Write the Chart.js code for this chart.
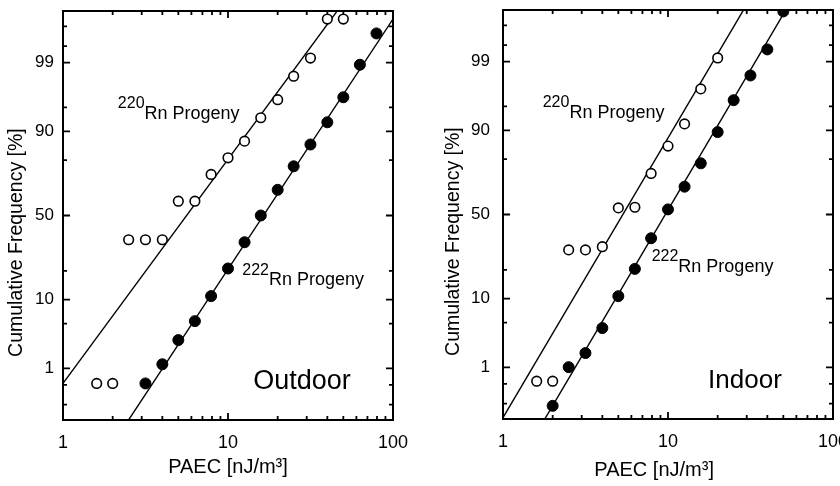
<!DOCTYPE html>
<html>
<head>
<meta charset="utf-8">
<script src="https://cdn.jsdelivr.net/npm/chart.js@4.4.1/dist/chart.umd.min.js"></script>
<style>
  html, body { margin: 0; padding: 0; background: #fff; }
  #wrap { position: relative; width: 840px; height: 486px; overflow: hidden; }
  .panel { position: absolute; top: 0; width: 420px; height: 486px; }
</style>
</head>
<body>
<div id="wrap">
  <div class="panel" style="left:0"><canvas id="outdoor" width="420" height="486"></canvas></div>
  <div class="panel" style="left:420px"><canvas id="indoor" width="420" height="486"></canvas></div>
</div>
<script>
// PAEC class values [nJ/m3] and cumulative frequency [%]
const outdoorRn220X = [1.6, 2.0, 2.5, 3.16, 4.0, 5.0, 6.3, 7.9, 10, 12.6, 15.8, 20, 25, 31.6, 40, 50];
const outdoorRn220Y = [0.53, 0.53, 35.6, 35.6, 35.6, 58.6, 58.6, 73.4, 81.0, 87.1, 93.15, 96.1, 98.3, 99.17, 99.86, 99.86];
const outdoorRn222X = [3.16, 4.0, 5.0, 6.3, 7.9, 10, 12.6, 15.8, 20, 25, 31.6, 40, 50, 63, 79.4];
const outdoorRn222Y = [0.53, 1.18, 2.9, 5.4, 11.0, 21.0, 34.2, 50, 65.2, 77.3, 86.0, 92.2, 96.4, 98.91, 99.72];

const indoorRn220X = [1.6, 2.0, 2.5, 3.16, 4.0, 5.0, 6.3, 7.9, 10, 12.6, 15.8, 20];
const indoorRn220Y = [0.56, 0.56, 29.5, 29.5, 31.2, 54.0, 54.4, 73.4, 85.1, 91.6, 97.2, 99.14];
const indoorRn222X = [2.0, 2.5, 3.16, 4.0, 5.0, 6.3, 7.9, 10, 12.6, 15.8, 20, 25, 31.6, 40, 50];
const indoorRn222Y = [0.18, 1.01, 1.75, 4.2, 10.7, 20.4, 35.9, 53.1, 66.4, 78.2, 89.5, 95.9, 98.28, 99.40, 99.90];

// log-normal fit lines (two end points each)
const outdoorFit220X = [1, 50];
const outdoorFit220Y = [0.53, 99.94];
const outdoorFit222X = [2.43, 100];
const outdoorFit222Y = [0.08, 99.86];
const indoorFit220X = [1, 30];
const indoorFit220Y = [0.10, 99.93];
const indoorFit222X = [1.75, 53];
const indoorFit222Y = [0.08, 99.92];

// axes
const xTicks = [1, 2, 3, 4, 5, 6, 7, 8, 9, 10, 20, 30, 40, 50, 60, 70, 80, 90, 100];
const xLabels = [1, 10, 100];
const yTicks = [0.2, 0.5, 1, 5, 10, 20, 50, 80, 90, 95, 99, 99.5, 99.8];
const yLabels = [1, 10, 50, 90, 99];
const yRange = [0.093, 99.907];

const FONT = '"Liberation Sans", Arial, sans-serif';

// inverse normal CDF (Acklam)
function probit(p) {
    const a = [-3.969683028665376e+01, 2.209460984245205e+02, -2.759285104469687e+02, 1.383577518672690e+02, -3.066479806614716e+01, 2.506628277459239e+00];
    const b = [-5.447609879822406e+01, 1.615858368580409e+02, -1.556989798598866e+02, 6.680131188771972e+01, -1.328068155288572e+01];
    const c = [-7.784894002430293e-03, -3.223964580411365e-01, -2.400758277161838e+00, -2.549732539343734e+00, 4.374664141464968e+00, 2.938163982698783e+00];
    const d = [7.784695709041462e-03, 3.224671290700398e-01, 2.445134137142996e+00, 3.754408661907416e+00];
    const lo = 0.02425;
    if (p < lo) {
        const q = Math.sqrt(-2 * Math.log(p));
        return (((((c[0]*q+c[1])*q+c[2])*q+c[3])*q+c[4])*q+c[5]) / ((((d[0]*q+d[1])*q+d[2])*q+d[3])*q+1);
    }
    if (p > 1 - lo) {
        const q = Math.sqrt(-2 * Math.log(1 - p));
        return -(((((c[0]*q+c[1])*q+c[2])*q+c[3])*q+c[4])*q+c[5]) / ((((d[0]*q+d[1])*q+d[2])*q+d[3])*q+1);
    }
    const q = p - 0.5, r = q * q;
    return (((((a[0]*r+a[1])*r+a[2])*r+a[3])*r+a[4])*r+a[5])*q / (((((b[0]*r+b[1])*r+b[2])*r+b[3])*r+b[4])*r+1);
}

// probability (normal) axis
class ProbitScale extends Chart.LinearScale {
    determineDataLimits() {
        this.min = this.options.min;
        this.max = this.options.max;
    }
    buildTicks() {
        return yTicks.map(v => ({ value: v }));
    }
    configure() {
        super.configure();
        this._zMin = probit(this.min / 100);
        this._zMax = probit(this.max / 100);
    }
    getPixelForValue(value) {
        const z = probit(value / 100);
        return this.getPixelForDecimal((z - this._zMin) / (this._zMax - this._zMin));
    }
}
ProbitScale.id = 'probit';
ProbitScale.defaults = {};
Chart.register(ProbitScale);

// frame with inward ticks on all four sides
const frameTicks = {
    id: 'frameTicks',
    beforeDatasetsDraw(chart) {
        const { ctx, chartArea: a, scales: { x, y } } = chart;
        ctx.save();
        ctx.strokeStyle = '#000';
        ctx.lineWidth = 1.8;
        ctx.beginPath();
        x.ticks.forEach(t => {
            const px = x.getPixelForValue(t.value);
            const len = xLabels.includes(t.value) ? 7 : 4;
            ctx.moveTo(px, a.bottom); ctx.lineTo(px, a.bottom - len);
            ctx.moveTo(px, a.top); ctx.lineTo(px, a.top + len);
        });
        y.ticks.forEach(t => {
            const py = y.getPixelForValue(t.value);
            const len = yLabels.includes(t.value) ? 7 : 4;
            ctx.moveTo(a.left, py); ctx.lineTo(a.left + len, py);
            ctx.moveTo(a.right, py); ctx.lineTo(a.right - len, py);
        });
        ctx.stroke();
        ctx.lineWidth = 2;
        ctx.strokeRect(a.left, a.top, a.right - a.left, a.bottom - a.top);
        ctx.restore();
    }
};

// text notes placed in data coordinates
const notes = {
    id: 'notes',
    afterDatasetsDraw(chart, args, opts) {
        const { ctx, scales: { x, y } } = chart;
        ctx.save();
        ctx.fillStyle = '#000';
        ctx.textAlign = 'left';
        ctx.textBaseline = 'alphabetic';
        (opts.items || []).forEach(n => {
            let px = x.getPixelForValue(n.x);
            const py = y.getPixelForValue(n.pct);
            if (n.sup) {
                ctx.font = n.supSize + 'px ' + FONT;
                ctx.fillText(n.sup, px, py - n.size * 0.6);
                px += ctx.measureText(n.sup).width;
            }
            ctx.font = n.size + 'px ' + FONT;
            ctx.fillText(n.text, px, py);
        });
        ctx.restore();
    }
};

function pts(xs, ys) {
    return xs.map((v, i) => ({ x: v, y: ys[i] }));
}

function makePanel(id, cfg) {
    const ctx = document.getElementById(id).getContext('2d');
    return new Chart(ctx, {
        type: 'scatter',
        data: {
            datasets: [
                {
                    data: pts(cfg.open.x, cfg.open.y),
                    pointRadius: 4.8, pointBackgroundColor: '#fff',
                    pointBorderColor: '#000', pointBorderWidth: 1.6
                },
                {
                    data: pts(cfg.filled.x, cfg.filled.y),
                    pointRadius: 5.5, pointBackgroundColor: '#000',
                    pointBorderColor: '#000', pointBorderWidth: 1
                },
                {
                    data: pts(cfg.fitOpen.x, cfg.fitOpen.y),
                    showLine: true, pointRadius: 0, borderColor: '#000', borderWidth: 1.4, clip: 0
                },
                {
                    data: pts(cfg.fitFilled.x, cfg.fitFilled.y),
                    showLine: true, pointRadius: 0, borderColor: '#000', borderWidth: 1.4, clip: 0
                }
            ]
        },
        options: {
            responsive: false,
            devicePixelRatio: 1,
            animation: false,
            events: [],
            layout: { padding: cfg.padding },
            scales: {
                x: {
                    type: 'logarithmic',
                    min: 1, max: 100,
                    grid: { display: false, drawTicks: false },
                    border: { display: false },
                    afterBuildTicks: s => { s.ticks = xTicks.map(v => ({ value: v })); },
                    afterFit: s => { s.height = cfg.xHeight; s.paddingLeft = 0; s.paddingRight = 0; },
                    ticks: {
                        autoSkip: false, maxRotation: 0, padding: 12, color: '#000',
                        font: { family: FONT, size: 18 },
                        callback: v => xLabels.includes(v) ? String(v) : ''
                    },
                    title: {
                        display: true, text: cfg.xTitle, color: '#000',
                        font: { family: FONT, size: 20 },
                        padding: { top: 0, bottom: cfg.xTitlePad }
                    }
                },
                y: {
                    type: 'probit',
                    min: yRange[0], max: yRange[1],
                    grid: { display: false, drawTicks: false },
                    border: { display: false },
                    afterFit: s => { s.width = cfg.yWidth; s.paddingTop = 0; s.paddingBottom = 0; },
                    ticks: {
                        autoSkip: false, padding: cfg.yTickPad, color: '#000',
                        font: { family: FONT, size: 17 },
                        callback: v => yLabels.includes(v) ? String(v) : ''
                    },
                    title: {
                        display: true, text: 'Cumulative Frequency [%]          ', color: '#000',
                        font: { family: FONT, size: 19.5 },
                        padding: { top: cfg.yTitlePad, bottom: 0 }
                    }
                }
            },
            plugins: {
                legend: { display: false },
                tooltip: { enabled: false },
                notes: { items: cfg.notes }
            }
        },
        plugins: [frameTicks, notes]
    });
}

makePanel('outdoor', {
    open: { x: outdoorRn220X, y: outdoorRn220Y },
    filled: { x: outdoorRn222X, y: outdoorRn222Y },
    fitOpen: { x: outdoorFit220X, y: outdoorFit220Y },
    fitFilled: { x: outdoorFit222X, y: outdoorFit222Y },
    padding: { left: 0, top: 11, right: 27, bottom: 0 },
    yWidth: 63, xHeight: 66, yTickPad: 9, yTitlePad: 5, xTitlePad: 7,
    xTitle: 'PAEC [nJ/m³]',
    notes: [
        { x: 2.15, pct: 93.0, sup: '220', supSize: 16, text: 'Rn Progeny', size: 18 },
        { x: 12.2, pct: 14.4, sup: '222', supSize: 16, text: 'Rn Progeny', size: 18 },
        { x: 14.2, pct: 0.42, text: 'Outdoor', size: 27 }
    ]
});

makePanel('indoor', {
    open: { x: indoorRn220X, y: indoorRn220Y },
    filled: { x: indoorRn222X, y: indoorRn222Y },
    fitOpen: { x: indoorFit220X, y: indoorFit220Y },
    fitFilled: { x: indoorFit222X, y: indoorFit222Y },
    padding: { left: 0, top: 10, right: 7, bottom: 0 },
    yWidth: 83, xHeight: 67, yTickPad: 13, yTitlePad: 22, xTitlePad: 4,
    xTitle: 'PAEC [nJ/m³]     ',
    notes: [
        { x: 1.74, pct: 92.9, sup: '220', supSize: 16, text: 'Rn Progeny', size: 18 },
        { x: 7.96, pct: 19.0, sup: '222', supSize: 16, text: 'Rn Progeny', size: 18 },
        { x: 17.5, pct: 0.42, text: 'Indoor', size: 26 }
    ]
});
</script>
</body>
</html>
